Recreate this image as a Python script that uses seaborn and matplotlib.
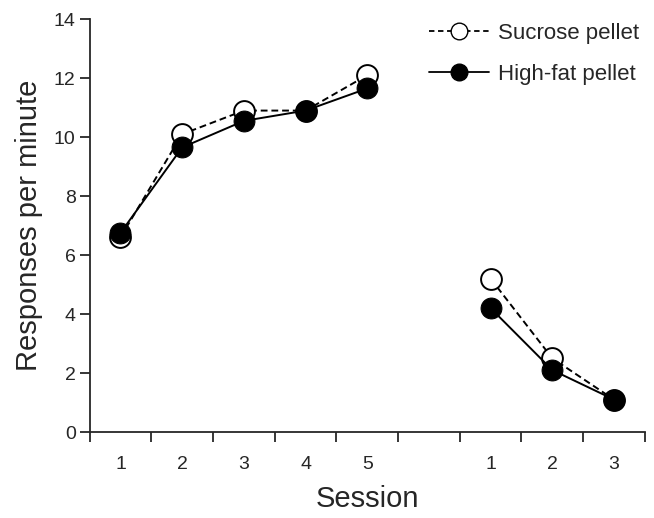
import numpy as np
import pandas as pd
import seaborn as sns
import matplotlib.pyplot as plt
from matplotlib.lines import Line2D

# acquisition sessions 1-5, then extinction sessions 1-3
acq_sessions = [1, 2, 3, 4, 5]
ext_sessions = [1, 2, 3]
sucrose_acq = [6.6, 10.1, 10.9, 10.9, 12.1]
highfat_acq = [6.75, 9.65, 10.55, 10.9, 11.65]
sucrose_ext = [5.2, 2.5, 1.1]
highfat_ext = [4.2, 2.1, 1.1]

acq_pos = np.arange(len(acq_sessions))
ext_pos = np.arange(len(ext_sessions)) + len(acq_sessions) + 1

sns.set_style("ticks")
plt.rcParams["font.family"] = ["Liberation Sans", "DejaVu Sans"]

fig, ax = plt.subplots(figsize=(6.54, 5.18), dpi=100)
fig.subplots_adjust(left=0.137, right=0.986, bottom=0.166, top=0.963)

for pos, suc, hf in [(acq_pos, sucrose_acq, highfat_acq), (ext_pos, sucrose_ext, highfat_ext)]:
    df = pd.DataFrame({"x": pos, "suc": suc, "hf": hf})
    sns.lineplot(data=df, x="x", y="suc", ax=ax, color="black", lw=1.4,
                 linestyle=(0, (3.5, 2)), marker="o", markersize=15,
                 markerfacecolor="white", markeredgecolor="black",
                 markeredgewidth=1.4, zorder=2)
    sns.lineplot(data=df, x="x", y="hf", ax=ax, color="black", lw=1.4,
                 marker="o", markersize=15, markerfacecolor="black",
                 markeredgecolor="black", zorder=3)

n = len(acq_sessions) + 1 + len(ext_sessions)
ax.set_xlim(-0.5, n - 0.5)
ax.set_ylim(0, 14)
ax.set_xticks(np.arange(-0.5, n, 1.0))
ax.set_xticklabels([])
ax.set_xticks(np.concatenate([acq_pos, ext_pos]), minor=True)
ax.set_xticklabels([str(s) for s in acq_sessions + ext_sessions], minor=True)
ax.set_yticks(np.arange(0, 15, 2))
ax.tick_params(axis="x", which="major", length=7, width=1.3, direction="out")
ax.tick_params(axis="x", which="minor", length=0, pad=17, labelsize=14)
ax.tick_params(axis="y", length=7, width=1.3, pad=3, labelsize=14)
for s in ["left", "bottom"]:
    ax.spines[s].set_linewidth(1.3)
sns.despine(ax=ax)

ax.set_xlabel("Session", fontsize=21, labelpad=9)
ax.set_ylabel("Responses per minute", fontsize=21, labelpad=8)

handles = [
    Line2D([], [], color="black", lw=1.3, linestyle=(0, (3, 2)), marker="o",
           markersize=12, markerfacecolor="white", markeredgecolor="black"),
    Line2D([], [], color="black", lw=1.3, marker="o", markersize=12,
           markerfacecolor="black"),
]
ax.legend(handles, ["Sucrose pellet", "High-fat pellet"], loc="upper right",
          bbox_to_anchor=(1.025, 1.04), frameon=False, fontsize=16,
          handlelength=2.7, handletextpad=0.4, labelspacing=0.9)

fig.savefig("out.png", dpi=100)
